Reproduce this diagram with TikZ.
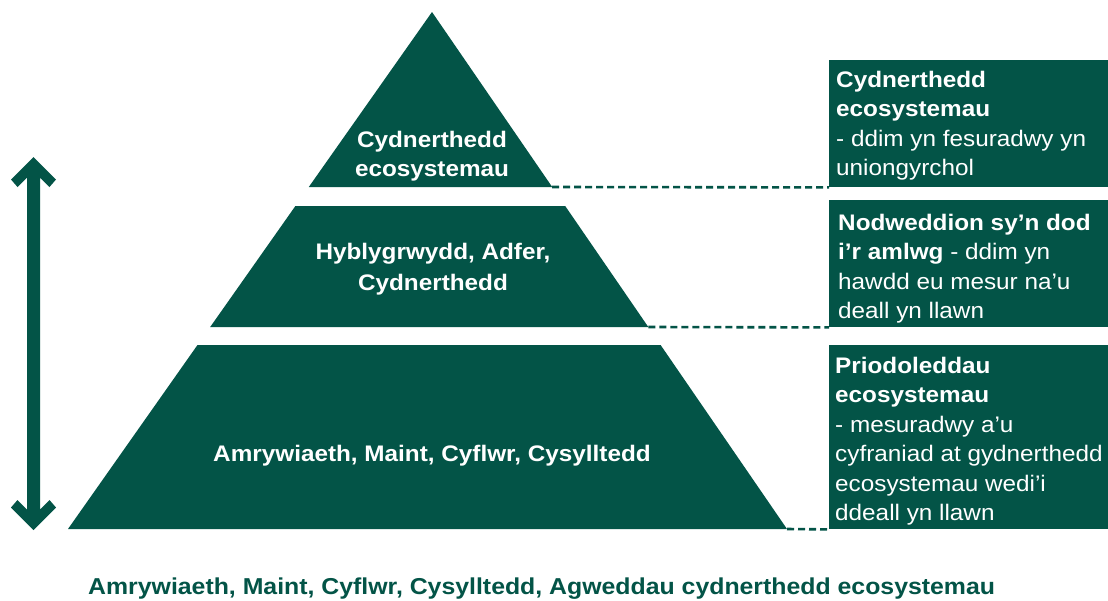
\documentclass[tikz,border=0pt]{standalone}
\usepackage{fontspec}
\setmainfont{Liberation Sans}[FakeStretch=1.08]
\definecolor{pgreen}{RGB}{3,84,71}
\begin{document}
\begin{tikzpicture}[x=1pt,y=-1pt,
  lvl/.style={fill=pgreen, draw=none},
  ptext/.style={text=white, font=\bfseries\fontsize{22.5}{29}\selectfont, align=center, inner sep=0},
  btext/.style={text=white, font=\fontsize{22.5}{29.4}\selectfont, align=left, anchor=north west, inner sep=0},
  boxr/.style={fill=pgreen, draw=none, anchor=north west, inner sep=0, minimum width=279pt},
  dashline/.style={draw=pgreen, line width=2.6pt, dash pattern=on 7pt off 4pt},
  bottomtext/.style={text=pgreen, font=\bfseries\fontsize{23}{28}\selectfont, anchor=base west, inner sep=0}
]
\useasboundingbox (0,0) rectangle (1108,600);
\fill[white] (0,0) rectangle (1108,600);

% pyramid corners
\coordinate (apex) at (432,12);
\coordinate (L1) at (308.8,187);  \coordinate (R1) at (552.2,187);
\coordinate (L2t) at (295.4,206); \coordinate (R2t) at (565.2,206);
\coordinate (L2b) at (210.2,327); \coordinate (R2b) at (648.3,327);
\coordinate (L3t) at (197.5,345); \coordinate (R3t) at (660.6,345);
\coordinate (L3b) at (68,529);    \coordinate (R3b) at (787,529);

\fill[lvl] (apex) -- (R1) -- (L1) -- cycle;
\fill[lvl] (L2t) -- (R2t) -- (R2b) -- (L2b) -- cycle;
\fill[lvl] (L3t) -- (R3t) -- (R3b) -- (L3b) -- cycle;

\node[ptext, anchor=north] (t1) at (432,131) {Cydnerthedd\\ecosystemau};
\node[ptext, anchor=north, font=\bfseries\fontsize{22.5}{30.5}\selectfont] (t2) at (433,243) {Hyblygrwydd, Adfer,\\Cydnerthedd};
\node[ptext, anchor=base] (t3) at (432,461) {Amrywiaeth, Maint, Cyflwr, Cysylltedd};

% right boxes
\node[boxr, minimum height=127pt] (box1) at (829,60) {};
\node[boxr, minimum height=127pt] (box2) at (829,200) {};
\node[boxr, minimum height=184pt] (box3) at (829,345) {};

\node[btext] (b1) at (836,71) {\textbf{Cydnerthedd}\\\textbf{ecosystemau}\\- ddim yn fesuradwy yn\\uniongyrchol};
\node[btext] (b2) at (838,214) {\textbf{Nodweddion sy’n dod}\\\textbf{i’r amlwg} - ddim yn\\hawdd eu mesur na’u\\deall yn llawn};
\node[btext] (b3) at (835,357) {\textbf{Priodoleddau}\\\textbf{ecosystemau}\\- mesuradwy a’u\\cyfraniad at gydnerthedd\\ecosystemau wedi’i\\ddeall yn llawn};

% dashed connectors
\draw[dashline] (R1) -- (box1.south west);
\draw[dashline] (R2b) -- (box2.south west);
\draw[dashline] (R3b) -- (box3.south west);

% double arrow
\coordinate (arrtop) at (33.5,157);
\coordinate (arrbot) at (33.5,530);
\fill[pgreen] (arrtop) -- (56,179.5) -- (49.5,187) -- (40,177.5) -- (40,509.5) -- (49.5,500) -- (56,507.5)
  -- (arrbot) -- (11,507.5) -- (17.5,500) -- (27,509.5) -- (27,177.5) -- (17.5,187) -- (11,179.5) -- cycle;

% bottom caption
\node[bottomtext] (cap) at (88,594) {Amrywiaeth, Maint, Cyflwr, Cysylltedd, Agweddau cydnerthedd ecosystemau};
\end{tikzpicture}
\end{document}
